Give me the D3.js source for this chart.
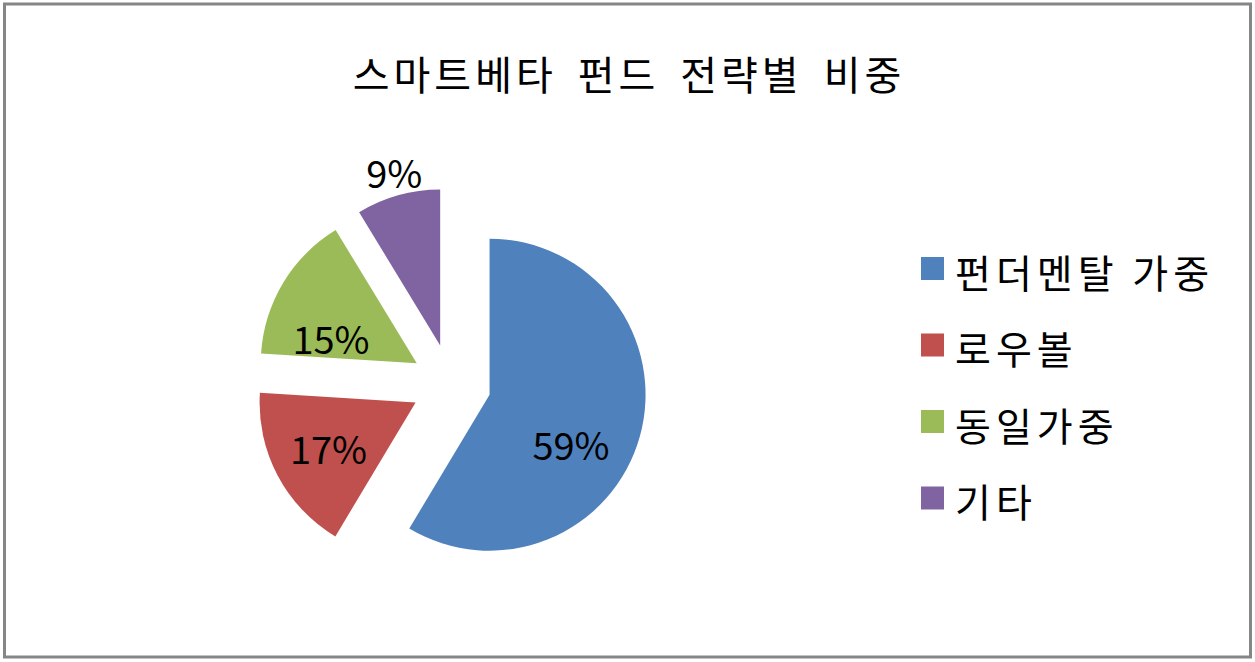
<!DOCTYPE html>
<html>
<head>
    <meta charset="utf-8">
    <title>스마트베타 펀드 전략별 비중</title>
    <script src="https://d3js.org/d3.v7.min.js"></script>
    <style>
        body { margin: 0; background: #fff; }
        text { font-family: "Noto Sans CJK KR", "Noto Sans", sans-serif; fill: #000; }
    </style>
</head>
<body>
    <div id="chart"></div>

    <script>
        // data (slice shares, labels are the rounded values)
        const title = "스마트베타 펀드 전략별 비중";
        const categories = ["펀더멘탈 가중", "로우볼", "동일가중", "기타"];
        const values = [58.6, 17.4, 15.3, 8.7];
        const colors = ["#4F81BD", "#C0504D", "#9BBB59", "#8064A2"];

        const width = 1255;
        const height = 662;

        const svg = d3.select("#chart")
            .append("svg")
            .attr("width", width)
            .attr("height", height);

        // frame
        svg.append("rect")
            .attr("x", 4.5)
            .attr("y", 4)
            .attr("width", 1246)
            .attr("height", 653)
            .attr("fill", "#fff")
            .attr("stroke", "#868686")
            .attr("stroke-width", 3);

        svg.append("text")
            .attr("x", 629)
            .attr("y", 90)
            .attr("text-anchor", "middle")
            .attr("font-size", 40)
            .attr("letter-spacing", 4)
            .attr("word-spacing", 8)
            .text(title);

        // pie layout
        const cx = 451, cy = 384;
        const radius = 156;
        const explode = 40;

        const pie = d3.pie().sort(null).value(d => d);
        const arcs = pie(values);
        const arc = d3.arc().innerRadius(0).outerRadius(radius);

        // label placement: angle nudge (deg) and distance from slice tip
        const labelPlace = [
            { da: 16.5, r: 96 },
            { da: -0.7, r: 99 },
            { da: -15.6, r: 89 },
            { da: 0.7, r: 178 }
        ];

        const polar = (a, r) => [Math.sin(a) * r, -Math.cos(a) * r];
        const pct = d3.format(".0f");

        const g = svg.append("g").attr("transform", `translate(${cx},${cy})`);

        const slice = g.selectAll("g.slice")
            .data(arcs)
            .enter()
            .append("g")
            .attr("class", "slice")
            .attr("transform", d => {
                const [dx, dy] = polar((d.startAngle + d.endAngle) / 2, explode);
                return `translate(${dx},${dy})`;
            });

        slice.append("path")
            .attr("d", arc)
            .attr("fill", (d, i) => colors[i]);

        slice.append("text")
            .attr("transform", (d, i) => {
                const a = (d.startAngle + d.endAngle) / 2 + labelPlace[i].da * Math.PI / 180;
                const [x, y] = polar(a, labelPlace[i].r);
                return `translate(${x},${y - 2})`;
            })
            .attr("text-anchor", "middle")
            .attr("dominant-baseline", "central")
            .attr("font-size", 38)
            .text(d => pct(d.data) + "%");

        // legend
        const legendY = d3.scalePoint()
            .domain(categories)
            .range([268.5, 498]);

        const legend = svg.selectAll("g.legend")
            .data(categories)
            .enter()
            .append("g")
            .attr("class", "legend")
            .attr("transform", d => `translate(921,${legendY(d)})`);

        legend.append("rect")
            .attr("x", 0)
            .attr("y", -11.5)
            .attr("width", 23)
            .attr("height", 23)
            .attr("fill", (d, i) => colors[i]);

        legend.append("text")
            .attr("x", 34)
            .attr("y", 2)
            .attr("dominant-baseline", "central")
            .attr("font-size", 39)
            .attr("letter-spacing", 5)
            .text(d => d);
    </script>
</body>
</html>
